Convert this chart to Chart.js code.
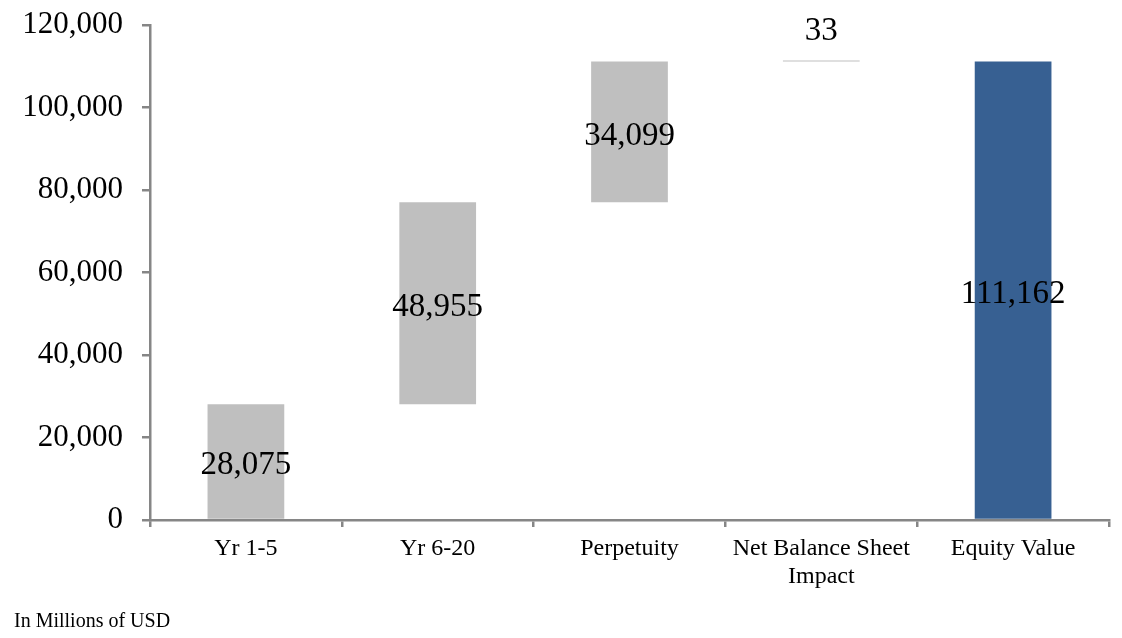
<!DOCTYPE html>
<html>
<head>
<meta charset="utf-8">
<script src="https://cdn.jsdelivr.net/npm/chart.js@4"></script>
<style>
html,body{margin:0;padding:0;background:#fff;}
#wrap{position:relative;width:1122px;height:638px;}
#nota{
    position:absolute;left:14px;top:609px;
    font-family:"Liberation Serif","Times New Roman",serif;
    font-size:20px;color:#000;
}
</style>
</head>
<body>
<div id="wrap">
<canvas id="grafico" width="1122" height="638"></canvas>
<div id="nota">In Millions of USD</div>
</div>
<script>

// =====================================
// DADOS
// =====================================

const categorias = [
    "Yr 1-5",
    "Yr 6-20",
    "Perpetuity",
    ["Net Balance Sheet","Impact"],
    "Equity Value"
];

const valores = [28075, 48955, 34099, 33, 111162];

const ehTotal = [false, false, false, false, true];

const ticksY = [0, 20000, 40000, 60000, 80000, 100000, 120000];


// =====================================
// CASCATA
// =====================================

let acumulado = 0;

const faixas = valores.map((v,i)=>{

    if(ehTotal[i]) return [0, v];

    const ini = acumulado;
    acumulado += v;
    return [ini, acumulado];

});

const cores =
ehTotal.map(t => t ? "#376092" : "#BFBFBF");

const fonte = "'Liberation Serif','Times New Roman',serif";


// =====================================
// ROTULOS
// =====================================

const rotulos = {

    id:"rotulos",

    afterDatasetsDraw(chart){

        const ctx = chart.ctx;
        const meta = chart.getDatasetMeta(0);

        ctx.save();
        ctx.font = "33px " + fonte;
        ctx.fillStyle = "#000";
        ctx.textAlign = "center";
        ctx.textBaseline = "middle";

        meta.data.forEach((bar,i)=>{

            const txt = valores[i].toLocaleString("en-US");
            const alto = Math.abs(bar.base - bar.y);

            let y;
            if(alto < 40){
                y = Math.min(bar.y, bar.base) - 29;
            } else {
                y = (bar.y + bar.base) / 2 + 4;
            }

            ctx.fillText(txt, bar.x, y);

        });

        ctx.restore();

    }

};


// =====================================
// GRAFICO
// =====================================

new Chart(document.getElementById("grafico"),{

    type:"bar",

    data:{

        labels:categorias,

        datasets:[{

            data:faixas,

            backgroundColor:cores,

            borderWidth:0,

            minBarLength:1,

            categoryPercentage:1,

            barPercentage:0.4

        }]

    },

    options:{

        responsive:false,

        animation:false,

        layout:{
            padding:{top:25, right:13, left:0, bottom:0}
        },

        plugins:{
            legend:{display:false},
            tooltip:{enabled:false}
        },

        scales:{

            x:{

                grid:{
                    drawOnChartArea:false,
                    drawTicks:true,
                    tickLength:7,
                    color:"#868686",
                    lineWidth:2.5,
                    offset:true
                },

                border:{color:"#868686", width:2.5},

                ticks:{
                    color:"#000",
                    padding:8,
                    maxRotation:0,
                    autoSkip:false,
                    font:{family:fonte, size:24, lineHeight:1.17}
                },

                afterFit(scale){
                    scale.height = 118;
                    scale.paddingLeft = 0;
                    scale.paddingRight = 0;
                }

            },

            y:{

                min:0,
                max:120000,

                afterBuildTicks(scale){
                    scale.ticks = ticksY.map(v=>({value:v}));
                },

                grid:{
                    drawOnChartArea:false,
                    drawTicks:true,
                    tickLength:8,
                    color:"#868686",
                    lineWidth:2.5
                },

                border:{color:"#868686", width:2.5},

                ticks:{
                    color:"#000",
                    padding:19,
                    font:{family:fonte, size:31},
                    callback:v=>v.toLocaleString("en-US")
                },

                afterFit(scale){
                    scale.width = 150;
                    scale.paddingTop = 0;
                    scale.paddingBottom = 0;
                }

            }

        }

    },

    plugins:[rotulos]

});

</script>
</body>
</html>
